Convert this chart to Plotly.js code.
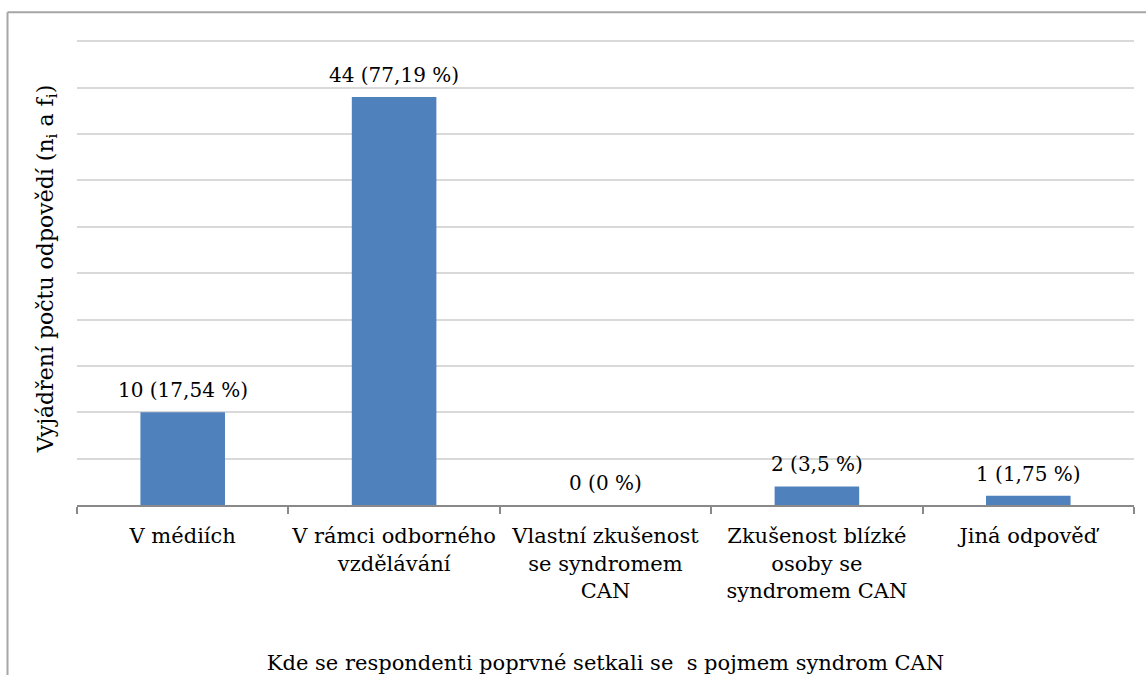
<!DOCTYPE html>
<html>
<head>
<meta charset="utf-8">
<script src="https://cdn.plot.ly/plotly-3.0.1.min.js"></script>
<style>
html,body{margin:0;padding:0;background:#fff;}
#chart{width:1146px;height:675px;}
</style>
</head>
<body>
<div id="chart"></div>
<script>
const categories = [
  "V médiích",
  "V rámci odborného<br>vzdělávání",
  "Vlastní zkušenost<br>se syndromem<br>CAN",
  "Zkušenost blízké<br>osoby se<br>syndromem CAN",
  "Jiná odpověď"
];
const counts = [10, 44, 0, 2, 1];
const labels = ["10 (17,54 %)", "44 (77,19 %)", "0 (0 %)", "2 (3,5 %)", "1 (1,75 %)"];

const xTitle = "Kde se respondenti poprvné setkali se  s pojmem syndrom CAN";
const yTitle = "Vyjádření počtu odpovědí (n<sub>i</sub> a f<sub>i</sub>)";

const FONT = "DejaVu Serif, serif";

const W = 1146, H = 675;
const UNIT = 9.28;
const L = 76.5, R = 12.4, T = 41 - UNIT, B = 170;
const pw = W - L - R, ph = H - T - B;
const px = v => (v - L) / pw;
const py = v => 1 - (v - T) / ph;

const trace = {
  type: 'bar',
  x: categories,
  y: counts,
  marker: {color: '#4f81bd'},
  hoverinfo: 'skip'
};

const annotations = categories.map((c, i) => ({
  x: c, y: counts[i], xref: 'x', yref: 'y',
  text: labels[i], showarrow: false,
  yanchor: 'bottom', yshift: 8,
  font: {family: FONT, size: 20, color: '#000'}
}));

const layout = {
  width: W, height: H,
  margin: {l: L, r: R, t: T, b: B, pad: 0},
  paper_bgcolor: '#fff', plot_bgcolor: '#fff',
  showlegend: false,
  bargap: 0.6,
  font: {family: FONT, size: 21, color: '#000'},
  xaxis: {
    type: 'category',
    tickangle: 0,
    showline: true, linecolor: '#898989', linewidth: 2,
    ticks: 'outside', tickson: 'boundaries', ticklen: 7, tickcolor: '#898989', tickwidth: 2,
    ticklabelstandoff: 11,
    tickfont: {family: FONT, size: 21, color: '#000'},
    showgrid: false,
    title: {text: xTitle, font: {family: FONT, size: 21, color: '#000'}, standoff: 54},
    automargin: false, fixedrange: true
  },
  yaxis: {
    range: [0, 51], dtick: 5, tick0: 0,
    showticklabels: false, ticks: '',
    showgrid: true, gridcolor: '#d9d9d9', gridwidth: 2,
    zeroline: false, showline: false,
    title: {text: yTitle, font: {family: FONT, size: 22, color: '#000'}, standoff: 16},
    automargin: false, fixedrange: true
  },
  annotations: annotations,
  shapes: [
    {type: 'line', xref: 'paper', yref: 'paper', x0: px(7), x1: px(1150), y0: py(12), y1: py(12),
     line: {color: '#a6a6a6', width: 2}},
    {type: 'line', xref: 'paper', yref: 'paper', x0: px(7), x1: px(7), y0: py(12), y1: py(680),
     line: {color: '#a6a6a6', width: 2}}
  ]
};

Plotly.newPlot('chart', [trace], layout, {displayModeBar: false, staticPlot: true});
</script>
</body>
</html>
